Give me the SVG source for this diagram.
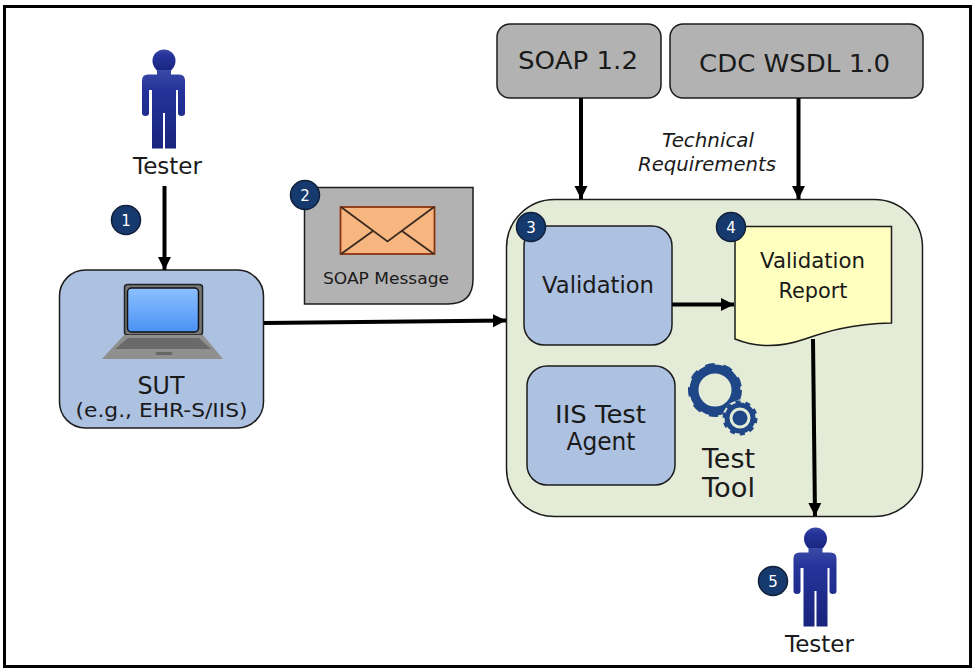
<svg xmlns="http://www.w3.org/2000/svg" xmlns:xlink="http://www.w3.org/1999/xlink" width="975" height="672" viewBox="0 0 975 672">
<style>
text{font-family:"DejaVu Sans",Verdana,sans-serif;fill:#1a1a1a;text-anchor:middle}
.blue{fill:#adc1e0;stroke:#1c1c1c;stroke-width:1.5}
.grey{fill:#b2b2b2;stroke:#1c1c1c;stroke-width:1.5}
.conn{stroke:#000;stroke-width:4;fill:none;marker-end:url(#arrow)}
.badge circle{fill:#173a6e;stroke:#10203a;stroke-width:1.5}
.badge text{fill:#fff;font-size:15px}
</style>
<defs>
<marker id="arrow" markerUnits="userSpaceOnUse" markerWidth="14" markerHeight="14" refX="13" refY="7" orient="auto"><path d="M0 0.5L13 7L0 13.5Z" fill="#000"/></marker>
<linearGradient id="pg" x1="0" y1="0" x2="0" y2="1"><stop offset="0" stop-color="#3a4aa6"/><stop offset="0.25" stop-color="#25339a"/><stop offset="1" stop-color="#18247c"/></linearGradient>
<linearGradient id="scr" x1="0" y1="0" x2="0" y2="1"><stop offset="0" stop-color="#8cc0ff"/><stop offset="1" stop-color="#4a92f5"/></linearGradient>
<g id="person">
<circle cx="164" cy="61" r="11.500" fill="url(#pg)"/>
<path d="M157 70h14v4.500h8q6 0 6 6v32.500q0 3-3.500 3t-3.500-3V90h-2v58.500h-11V113h-2v35.500h-11V90H149v23q0 3-3.500 3t-3.500-3V80.500q0-6 6-6h9z" fill="url(#pg)"/>
</g>
</defs>
<rect width="975" height="672" fill="#fff"/>
<rect x="4.500" y="6.500" width="966" height="660" fill="#fff" stroke="#000" stroke-width="3"/>

<g id="tester1"><use xlink:href="#person"/><text x="167.500" y="174" font-size="23" textLength="69" lengthAdjust="spacingAndGlyphs">Tester</text></g>

<g id="sut">
<rect class="blue" x="59.500" y="270" width="204" height="158" rx="26"/>
<rect x="124.500" y="284.500" width="78" height="50.500" rx="3" fill="#777" stroke="#222" stroke-width="1.500"/>
<rect x="127.500" y="288" width="71" height="44" rx="4" fill="url(#scr)" stroke="#111" stroke-width="1.500"/>
<path d="M124 335H203L223 359H102Z" fill="#8f8f8f"/>
<path d="M128 338H199L211 349H115Z" fill="#6a6a6a"/>
<rect x="156" y="352" width="16" height="3" rx="1" fill="#666"/>
<text x="161" y="394" font-size="24" textLength="47" lengthAdjust="spacingAndGlyphs">SUT</text>
<text x="161.500" y="417" font-size="20" textLength="172" lengthAdjust="spacingAndGlyphs">(e.g., EHR-S/IIS)</text>
</g>

<g id="soap-message">
<path class="grey" d="M304.500 187.500H473V279q0 25-25 25H304.500Z"/>
<rect x="340.500" y="207" width="94" height="47" fill="#f7b57f" stroke="#8a3510" stroke-width="1.800"/>
<path d="M341 207L387.500 241.500L434 207M341 254L373 231M434 254L402 231" fill="none" stroke="#3a2a20" stroke-width="1.800"/>
<text x="386" y="284" font-size="16" textLength="126" lengthAdjust="spacingAndGlyphs">SOAP Message</text>
</g>

<g id="soap12"><rect class="grey" x="497" y="24" width="164" height="74" rx="13"/><text x="578" y="69" font-size="25" textLength="120" lengthAdjust="spacingAndGlyphs">SOAP 1.2</text></g>
<g id="cdc-wsdl"><rect class="grey" x="670" y="24" width="253" height="74" rx="13"/><text x="794.500" y="72" font-size="25" textLength="191" lengthAdjust="spacingAndGlyphs">CDC WSDL 1.0</text></g>
<g id="tech-req"><text x="708" y="147" font-size="19" font-style="italic" textLength="92" lengthAdjust="spacingAndGlyphs">Technical</text><text x="707" y="171" font-size="19" font-style="italic" textLength="138" lengthAdjust="spacingAndGlyphs">Requirements</text></g>

<g id="test-tool">
<rect x="506.500" y="199.500" width="416" height="317" rx="48" fill="#e4ebd7" stroke="#1c1c1c" stroke-width="1.500"/>
<circle cx="715" cy="390" r="21" fill="none" stroke="#1f4788" stroke-width="9"/>
<circle cx="715" cy="390" r="24" fill="none" stroke="#1f4788" stroke-width="6" stroke-dasharray="8.800 8.400"/>
<circle cx="740" cy="418" r="17.500" fill="#e4ebd7"/>
<circle cx="740" cy="418" r="13" fill="none" stroke="#1f4788" stroke-width="5"/>
<circle cx="740" cy="418" r="15.500" fill="none" stroke="#1f4788" stroke-width="4" stroke-dasharray="4.900 4.840"/>
<circle cx="740" cy="418" r="7.500" fill="#1f4788"/>
<text x="728.500" y="468" font-size="26" textLength="53" lengthAdjust="spacingAndGlyphs">Test</text>
<text x="728.500" y="497" font-size="26" textLength="53" lengthAdjust="spacingAndGlyphs">Tool</text>
</g>

<g id="validation"><rect class="blue" x="524" y="226" width="148" height="119" rx="20"/><text x="598" y="293" font-size="23" textLength="112" lengthAdjust="spacingAndGlyphs">Validation</text></g>
<g id="iis-agent"><rect class="blue" x="527" y="366" width="148" height="119" rx="20"/><text x="600.500" y="423" font-size="24" textLength="91" lengthAdjust="spacingAndGlyphs">IIS Test</text><text x="601" y="450" font-size="24" textLength="69" lengthAdjust="spacingAndGlyphs">Agent</text></g>
<g id="report">
<path d="M735 226.500H891.500V323C850 324 825 332 805 339C785 346 760 349 735 339Z" fill="#ffffc0" stroke="#1c1c1c" stroke-width="1.500"/>
<text x="812.500" y="268" font-size="22" textLength="105" lengthAdjust="spacingAndGlyphs">Validation</text>
<text x="813" y="298" font-size="22" textLength="69" lengthAdjust="spacingAndGlyphs">Report</text>
</g>

<g id="tester2"><use xlink:href="#person" transform="translate(651.500 478)"/><text x="819.500" y="652" font-size="23" textLength="69" lengthAdjust="spacingAndGlyphs">Tester</text></g>

<g id="connectors">
<path class="conn" d="M164.500 186V270"/>
<path class="conn" d="M264 323L506 320.500"/>
<path class="conn" d="M581 98V199"/>
<path class="conn" d="M798.500 98V199"/>
<path class="conn" d="M672 304.500H734"/>
<path class="conn" d="M813 339L815 516"/>
</g>

<g id="badges">
<g class="badge"><circle cx="126" cy="220" r="14.500"/><text x="126" y="225.500">1</text></g>
<g class="badge"><circle cx="305" cy="195" r="14.500"/><text x="305" y="200.500">2</text></g>
<g class="badge"><circle cx="531" cy="227" r="14.500"/><text x="531" y="232.500">3</text></g>
<g class="badge"><circle cx="731" cy="227" r="14.500"/><text x="731" y="232.500">4</text></g>
<g class="badge"><circle cx="773" cy="581" r="14.500"/><text x="773" y="586.500">5</text></g>
</g>
</svg>
